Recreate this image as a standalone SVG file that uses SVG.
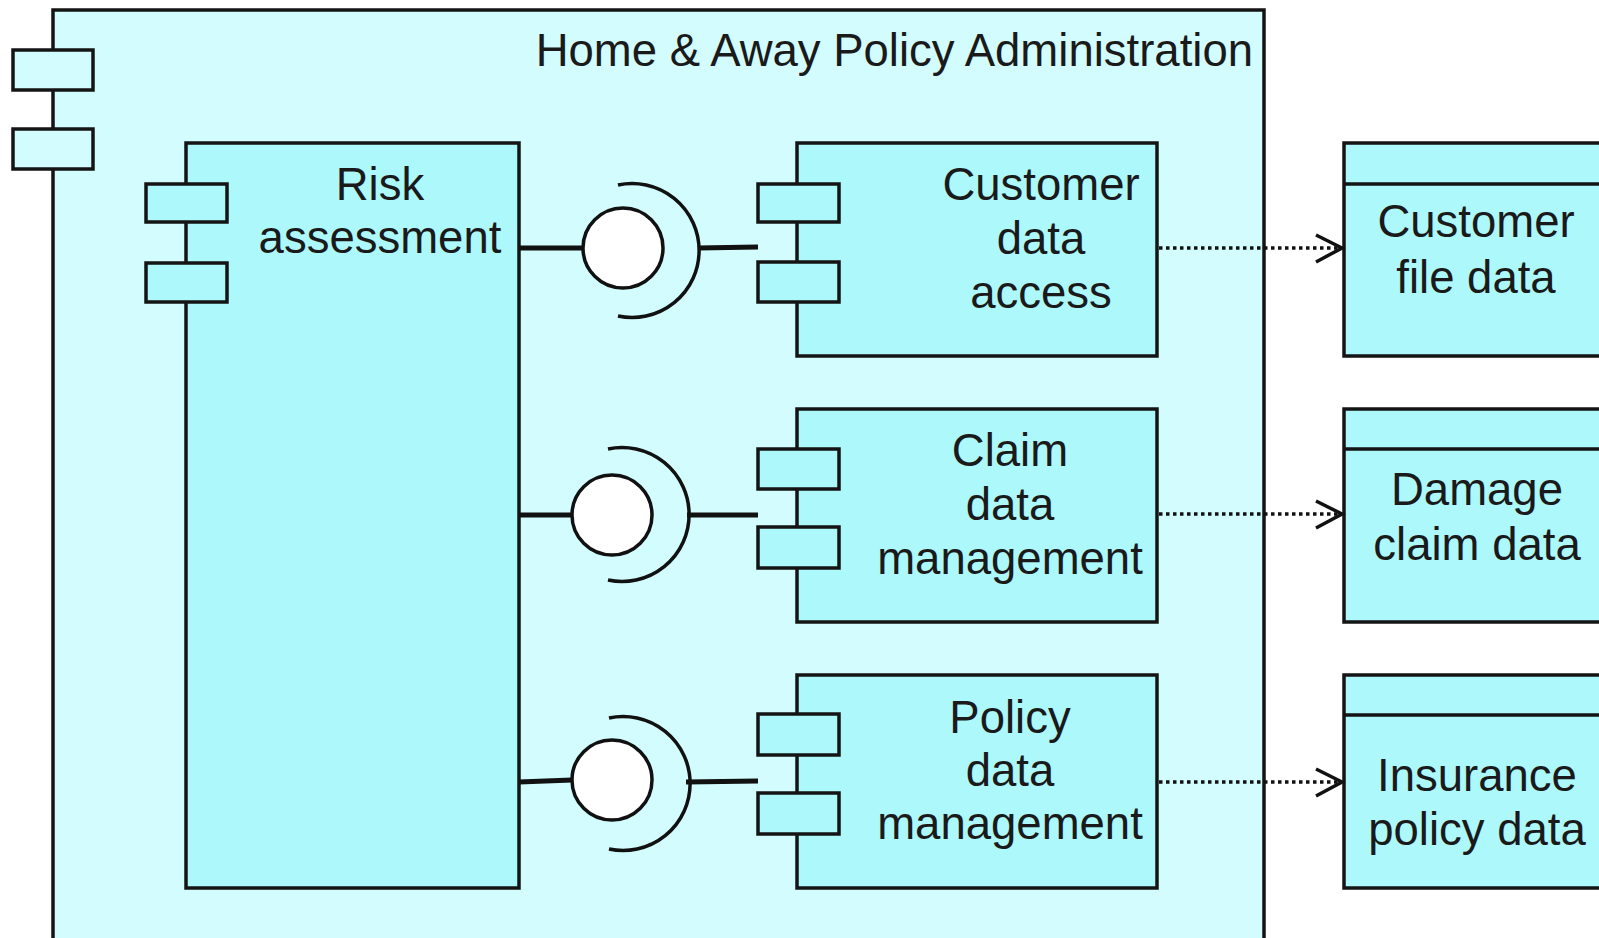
<svg xmlns="http://www.w3.org/2000/svg" width="1599" height="938" viewBox="0 0 1599 938">
<defs>
<style>
.outer{fill:#d2fcfe;stroke:#141414;stroke-width:3.5}
.comp{fill:#acf8fa;stroke:#141414;stroke-width:3.5}
.oport{fill:#d2fcfe;stroke:#141414;stroke-width:3.5}
.port{fill:#acf8fa;stroke:#141414;stroke-width:3.5}
.data{fill:#acf8fa;stroke:#141414;stroke-width:3.5}
.t{font-family:"Liberation Sans",Arial,sans-serif;font-size:45.5px;fill:#1a1a1a;text-anchor:middle}
.title{font-family:"Liberation Sans",Arial,sans-serif;font-size:45.5px;fill:#1a1a1a;text-anchor:end}
.wire{stroke:#111;stroke-width:5;fill:none}
.ball{fill:#ffffff;stroke:#111;stroke-width:3.5}
.sock{fill:none;stroke:#111;stroke-width:3.5}
.dep{stroke:#111;stroke-width:3.5;stroke-dasharray:3.5 3.5;fill:none}
.head{stroke:#111;stroke-width:3.5;fill:none}
</style>
</defs>
<rect width="1599" height="938" fill="#ffffff"/>

<g id="policy-administration">
<rect class="outer" x="53" y="10" width="1211" height="940"/>
<rect class="oport" x="13" y="50" width="80" height="40"/>
<rect class="oport" x="13" y="129" width="80" height="40"/>
<text class="title" x="1253" y="66">Home &amp; Away Policy Administration</text>
</g>

<g id="risk-assessment">
<rect class="comp" x="186" y="143" width="333" height="745"/>
<rect class="port" x="146" y="184" width="81" height="38"/>
<rect class="port" x="146" y="263" width="81" height="39"/>
<text class="t" x="380" y="200">Risk</text>
<text class="t" x="380" y="253">assessment</text>
</g>

<g id="customer-data-access">
<rect class="comp" x="797" y="143" width="360" height="213"/>
<rect class="port" x="758" y="184" width="81" height="38"/>
<rect class="port" x="758" y="262" width="81" height="40"/>
<text class="t" x="1041" y="200">Customer</text>
<text class="t" x="1041" y="254">data</text>
<text class="t" x="1041" y="308">access</text>
</g>

<g id="claim-data-management">
<rect class="comp" x="797" y="409" width="360" height="213"/>
<rect class="port" x="758" y="449" width="81" height="40"/>
<rect class="port" x="758" y="527" width="81" height="41"/>
<text class="t" x="1010" y="466">Claim</text>
<text class="t" x="1010" y="520">data</text>
<text class="t" x="1010" y="574">management</text>
</g>

<g id="policy-data-management">
<rect class="comp" x="797" y="675" width="360" height="213"/>
<rect class="port" x="758" y="714" width="81" height="41"/>
<rect class="port" x="758" y="793" width="81" height="41"/>
<text class="t" x="1010" y="733">Policy</text>
<text class="t" x="1010" y="786">data</text>
<text class="t" x="1010" y="839">management</text>
</g>

<g id="customer-file-data">
<rect class="data" x="1344" y="143" width="300" height="213"/>
<line x1="1344" y1="184" x2="1644" y2="184" stroke="#141414" stroke-width="3.5"/>
<text class="t" x="1476" y="237">Customer</text>
<text class="t" x="1476" y="293">file data</text>
</g>

<g id="damage-claim-data">
<rect class="data" x="1344" y="409" width="300" height="213"/>
<line x1="1344" y1="449" x2="1644" y2="449" stroke="#141414" stroke-width="3.5"/>
<text class="t" x="1477" y="505">Damage</text>
<text class="t" x="1477" y="560">claim data</text>
</g>

<g id="insurance-policy-data">
<rect class="data" x="1344" y="675" width="300" height="213"/>
<line x1="1344" y1="715" x2="1644" y2="715" stroke="#141414" stroke-width="3.5"/>
<text class="t" x="1477" y="791">Insurance</text>
<text class="t" x="1477" y="845">policy data</text>
</g>

<g id="connectors">
<line class="wire" x1="519" y1="248" x2="583" y2="248"/>
<circle class="ball" cx="623" cy="248" r="40"/>
<path class="sock" d="M 618 185 A 67 67 0 1 1 618 316"/>
<line class="wire" x1="698" y1="248" x2="758" y2="247"/>
<line class="wire" x1="519" y1="515" x2="572" y2="515"/>
<circle class="ball" cx="612" cy="515" r="40"/>
<path class="sock" d="M 608 449 A 67 67 0 1 1 608 580"/>
<line class="wire" x1="687" y1="515" x2="758" y2="515"/>
<line class="wire" x1="519" y1="782" x2="572" y2="780"/>
<circle class="ball" cx="612" cy="780" r="40"/>
<path class="sock" d="M 609 718 A 67 67 0 1 1 609 849"/>
<line class="wire" x1="686" y1="782" x2="758" y2="781"/>
<line class="dep" x1="1159" y1="248" x2="1341" y2="248"/>
<polyline class="head" points="1316,235 1342,248 1316,262"/>
<line class="dep" x1="1159" y1="514" x2="1341" y2="514"/>
<polyline class="head" points="1316,501 1342,514 1316,528"/>
<line class="dep" x1="1159" y1="782" x2="1341" y2="782"/>
<polyline class="head" points="1316,769 1342,782 1316,796"/>
</g>
</svg>
